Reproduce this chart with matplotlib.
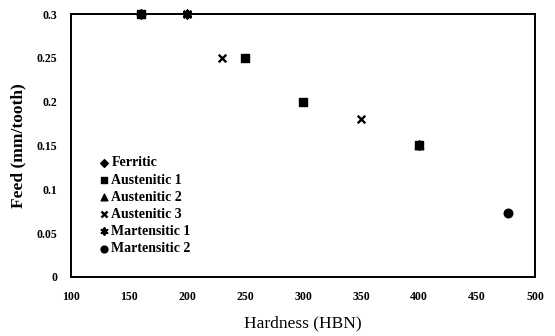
import matplotlib
matplotlib.use("Agg")
import matplotlib.pyplot as plt

plt.rcParams['font.family'] = ['Liberation Serif', 'DejaVu Serif']

series_names = ["Ferritic", "Austenitic 1", "Austenitic 2", "Austenitic 3", "Martensitic 1", "Martensitic 2"]
ferritic_x = [160]
ferritic_y = [0.3]
austenitic1_x = [160, 250, 300, 400]
austenitic1_y = [0.3, 0.25, 0.2, 0.15]
austenitic2_x = [400]
austenitic2_y = [0.15]
austenitic3_x = [200, 230, 350]
austenitic3_y = [0.3, 0.25, 0.18]
martensitic1_x = [200, 400]
martensitic1_y = [0.3, 0.15]
martensitic2_x = [477]
martensitic2_y = [0.073]

x_ticks = [100, 150, 200, 250, 300, 350, 400, 450, 500]
y_ticks = [0, 0.05, 0.1, 0.15, 0.2, 0.25, 0.3]
y_tick_labels = ["0", "0.05", "0.1", "0.15", "0.2", "0.25", "0.3"]

fig = plt.figure(figsize=(5.55, 3.36), dpi=100)
ax = fig.add_axes([0.128, 0.176, 0.836, 0.782])

kw = dict(color='black', zorder=3, clip_on=False)
ax.scatter(ferritic_x, ferritic_y, marker='D', s=24, label=series_names[0], **kw)
ax.scatter(austenitic1_x, austenitic1_y, marker='s', s=36, label=series_names[1], **kw)
ax.scatter(austenitic2_x, austenitic2_y, marker='^', s=36, label=series_names[2], **kw)
ax.scatter(austenitic3_x, austenitic3_y, marker='x', s=30, linewidths=1.7, label=series_names[3], **kw)
ax.scatter(martensitic1_x, martensitic1_y, marker=(6, 2, 0), s=34, linewidths=1.5, label=series_names[4], **kw)
ax.scatter(martensitic2_x, martensitic2_y, marker='o', s=38, label=series_names[5], **kw)

ax.set_xlim(100, 500)
ax.set_ylim(0, 0.3)
ax.set_xticks(x_ticks)
ax.set_yticks(y_ticks)
ax.set_yticklabels(y_tick_labels)
ax.tick_params(axis='x', length=0, labelsize=8.5, pad=10)
ax.tick_params(axis='y', length=0, labelsize=8.5, pad=10)
for lab in ax.get_xticklabels() + ax.get_yticklabels():
    lab.set_fontweight('bold')
for sp in ax.spines.values():
    sp.set_linewidth(1.4)
    sp.set_color('black')

ax.set_xlabel("Hardness (HBN)", fontsize=12.5, labelpad=9)
ax.set_ylabel("Feed (mm/tooth)", fontsize=12.5, fontweight='bold', labelpad=7)

leg = ax.legend(loc='upper left', bbox_to_anchor=(0.045, 0.485), frameon=False,
                prop={'size': 10, 'weight': 'bold'}, handletextpad=0.1,
                labelspacing=0.3, handlelength=0.8, borderpad=0, markerscale=0.8)

fig.savefig("out.png", dpi=100)
